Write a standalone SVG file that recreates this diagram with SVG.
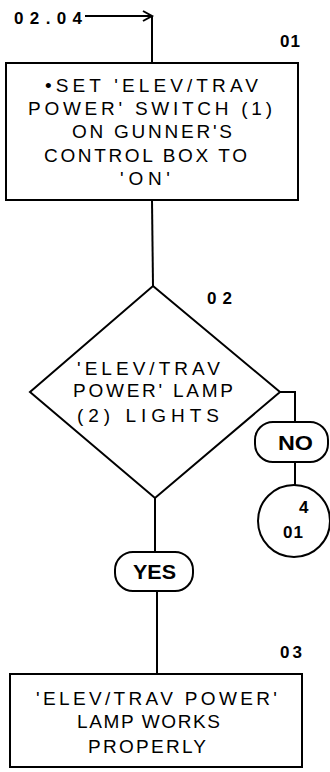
<svg xmlns="http://www.w3.org/2000/svg" width="330" height="772" viewBox="0 0 330 772">
<style>
.shape{fill:#fff;stroke:#000;stroke-width:2}
.line{fill:none;stroke:#000;stroke-width:2}
.t{font-family:"Liberation Sans",Arial,sans-serif;font-size:19px;fill:#000}
.lbl{font-family:"Liberation Sans",Arial,sans-serif;font-size:17px;fill:#000;font-weight:bold}
.pill{font-family:"Liberation Sans",Arial,sans-serif;font-size:21px;fill:#000;font-weight:bold}
</style>
<rect width="330" height="772" fill="#fff"/>
<g id="connectors">
<line class="line" x1="85" y1="16" x2="152" y2="16"/>
<polyline class="line" points="143,11 152,16 143,21"/>
<line class="line" x1="152" y1="16" x2="152" y2="63"/>
<line class="line" x1="152" y1="200" x2="153" y2="286"/>
<polyline class="line" points="280,392 295,392 295,422"/>
<line class="line" x1="295" y1="462" x2="295" y2="485"/>
<line class="line" x1="155" y1="498" x2="155" y2="552"/>
<line class="line" x1="157" y1="591" x2="157" y2="674"/>
</g>
<g id="entry">
<text class="lbl" x="14" y="24" textLength="68" lengthAdjust="spacing">02.04</text>
</g>
<g id="n01">
<rect class="shape" x="6" y="63" width="292" height="137"/>
<text class="lbl" x="280" y="47" textLength="20" lengthAdjust="spacing">01</text>
<text class="t" x="45" y="92" textLength="213" lengthAdjust="spacing">•SET 'ELEV/TRAV</text>
<text class="t" x="28" y="115" textLength="244" lengthAdjust="spacing">POWER' SWITCH (1)</text>
<text class="t" x="72" y="138" textLength="160" lengthAdjust="spacing">ON GUNNER'S</text>
<text class="t" x="44" y="162" textLength="203" lengthAdjust="spacing">CONTROL BOX TO</text>
<text class="t" x="120" y="185" textLength="50" lengthAdjust="spacing">'ON'</text>
</g>
<g id="n02">
<polygon class="shape" points="153,286 280,392 155,498 30,392"/>
<text class="lbl" x="207" y="304" textLength="25" lengthAdjust="spacing">02</text>
<text class="t" x="77" y="375" textLength="143" lengthAdjust="spacing">'ELEV/TRAV</text>
<text class="t" x="73" y="397" textLength="160" lengthAdjust="spacing">POWER' LAMP</text>
<text class="t" x="77" y="422" textLength="142" lengthAdjust="spacing">(2) LIGHTS</text>
</g>
<g id="no">
<rect class="shape" x="255" y="422" width="73" height="40" rx="18"/>
<text class="pill" x="278" y="450" textLength="35" lengthAdjust="spacingAndGlyphs">NO</text>
</g>
<g id="ref401">
<circle class="shape" cx="294" cy="521" r="36"/>
<text class="lbl" x="299" y="513">4</text>
<text class="lbl" x="283" y="538" textLength="20" lengthAdjust="spacing">01</text>
</g>
<g id="yes">
<rect class="shape" x="115" y="552" width="78" height="39" rx="18"/>
<text class="pill" x="133" y="579" textLength="43" lengthAdjust="spacingAndGlyphs">YES</text>
</g>
<g id="n03">
<rect class="shape" x="10" y="674" width="292" height="93"/>
<text class="lbl" x="280" y="658" textLength="22" lengthAdjust="spacing">03</text>
<text class="t" x="36" y="705" textLength="241" lengthAdjust="spacing">'ELEV/TRAV POWER'</text>
<text class="t" x="77" y="728" textLength="143" lengthAdjust="spacing">LAMP WORKS</text>
<text class="t" x="88" y="753" textLength="118" lengthAdjust="spacing">PROPERLY</text>
</g>
</svg>
